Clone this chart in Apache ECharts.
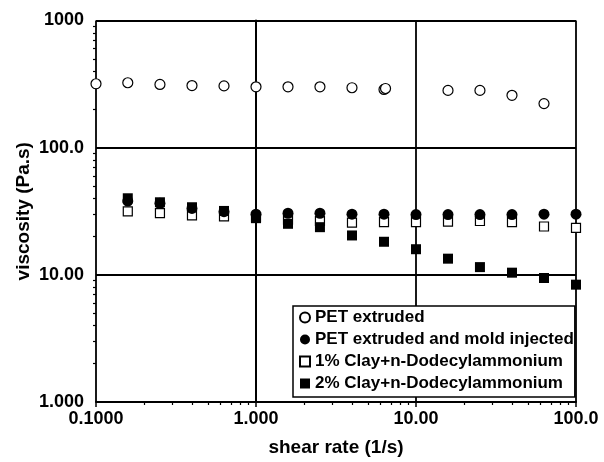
<!DOCTYPE html>
<html>
<head>
<meta charset="utf-8">
<script src="https://cdn.jsdelivr.net/npm/echarts@6/dist/echarts.min.js"></script>
<style>
  html, body { margin: 0; padding: 0; background: #fff; }
  #chart { width: 604px; height: 462px; }
</style>
</head>
<body>
<div id="chart"></div>
<script>
// Shear rates (1/s)
const shearPET = [0.1, 0.158, 0.251, 0.398, 0.631, 1.0, 1.585, 2.51, 3.98, 6.31, 6.45, 15.85, 25.1, 39.8, 63.1];
const shearBlends = [0.158, 0.251, 0.398, 0.631, 1.0, 1.585, 2.51, 3.98, 6.31, 10.0, 15.85, 25.1, 39.8, 63.1, 100.0];

// Viscosity (Pa.s)
const petExtruded = [318, 324, 314, 308, 306, 301, 301, 301, 296, 287, 292, 282, 282, 258, 222];
const petMoldInjected = [38, 36.5, 33.3, 31.4, 30, 30.5, 30.5, 30, 30, 29.8, 29.8, 29.8, 29.8, 30, 30];
const clay1 = [31.6, 30.6, 29.4, 28.8, 28.3, 27.2, 26.5, 25.7, 26, 26, 26.2, 26.5, 26, 24, 23.4];
const clay2 = [40, 37.2, 34, 31.8, 27.9, 25.2, 23.7, 20.4, 18.2, 15.9, 13.4, 11.5, 10.4, 9.44, 8.37];

const seriesNames = [
  'PET extruded',
  'PET extruded and mold injected',
  '1% Clay+n-Dodecylammonium',
  '2% Clay+n-Dodecylammonium'
];

// Decade tick labels
const xTickLabels = ['0.1000', '1.000', '10.00', '100.0'];
const yTickLabels = ['1.000', '10.00', '100.0', '1000'];

// Minor (2..9 per decade) tick positions, in log10 units
function minorLogTicks(fromExp, toExp) {
  const out = [];
  for (let e = fromExp; e < toExp; e++) {
    for (let m = 2; m <= 9; m++) out.push(e + Math.log10(m));
  }
  return out;
}

const FONT = "'Liberation Sans', Arial, Helvetica, sans-serif";
const zip = (xs, ys) => xs.map((x, i) => [x, ys[i]]);

const chart = echarts.init(document.getElementById('chart'), null, { renderer: 'canvas' });

const boldText = (size) => ({ fontFamily: FONT, fontWeight: 'bold', fontSize: size, color: '#000' });

chart.setOption({
  animation: false,
  backgroundColor: '#fff',
  grid: { left: 96, right: 28, top: 20.5, bottom: 56.5, containLabel: false },
  xAxis: [
    {
      type: 'log', logBase: 10, min: 0.1, max: 100,
      position: 'bottom',
      name: 'shear rate (1/s)', nameLocation: 'middle', nameGap: 36,
      nameMoveOverlap: false,
      nameTextStyle: boldText(19),
      axisLine: { show: true, lineStyle: { color: '#000', width: 2 } },
      axisTick: { show: true, inside: false, length: 5, lineStyle: { color: '#000', width: 1.5 } },
      axisLabel: {
        margin: 8, ...boldText(18),
        formatter: (v) => xTickLabels[Math.round(Math.log10(v)) + 1]
      },
      splitLine: { show: true, lineStyle: { color: '#000', width: 1.8 } },
      minorTick: { show: false }
    },
    {
      type: 'value', min: -1, max: 2, position: 'bottom',
      axisLine: { show: false },
      axisLabel: { show: false },
      splitLine: { show: false },
      axisTick: { show: true, length: 3, customValues: minorLogTicks(-1, 2), lineStyle: { color: '#000', width: 1.2 } }
    }
  ],
  yAxis: [
    {
      type: 'log', logBase: 10, min: 1, max: 1000,
      position: 'left',
      name: 'viscosity (Pa.s)', nameLocation: 'middle', nameGap: 63, nameRotate: 90,
      nameMoveOverlap: false,
      nameTextStyle: boldText(19),
      axisLine: { show: true, lineStyle: { color: '#000', width: 2 } },
      axisTick: { show: true, inside: false, length: 5, lineStyle: { color: '#000', width: 1.5 } },
      axisLabel: {
        margin: 12, ...boldText(18),
        formatter: (v) => yTickLabels[Math.round(Math.log10(v))]
      },
      splitLine: { show: true, lineStyle: { color: '#000', width: 1.8 } }
    },
    {
      type: 'value', min: 0, max: 3, position: 'left',
      axisLine: { show: false },
      axisLabel: { show: false },
      splitLine: { show: false },
      axisTick: { show: true, length: 3, customValues: minorLogTicks(0, 3), lineStyle: { color: '#000', width: 1.2 } }
    }
  ],
  legend: {
    orient: 'vertical',
    left: 293, top: 306,
    padding: [3, 1, 5, 6],
    itemWidth: 10, itemHeight: 10, itemGap: 5,
    backgroundColor: '#fff',
    borderColor: '#000', borderWidth: 1.5,
    textStyle: { ...boldText(17), lineHeight: 16 },
    data: seriesNames
  },
  series: [
    {
      name: seriesNames[0], type: 'scatter', z: 3,
      symbol: 'circle', symbolSize: 10,
      itemStyle: { color: '#fff', borderColor: '#000', borderWidth: 1.2, opacity: 1 },
      data: zip(shearPET, petExtruded)
    },
    {
      name: seriesNames[1], type: 'scatter', z: 5,
      symbol: 'circle', symbolSize: 11,
      itemStyle: { color: '#000', opacity: 1 },
      data: zip(shearBlends, petMoldInjected)
    },
    {
      name: seriesNames[2], type: 'scatter', z: 3,
      symbol: 'rect', symbolSize: 9,
      itemStyle: { color: '#fff', borderColor: '#000', borderWidth: 1.2, opacity: 1 },
      data: zip(shearBlends, clay1)
    },
    {
      name: seriesNames[3], type: 'scatter', z: 4,
      symbol: 'rect', symbolSize: 10,
      itemStyle: { color: '#000', opacity: 1 },
      data: zip(shearBlends, clay2)
    }
  ]
});
</script>
</body>
</html>
